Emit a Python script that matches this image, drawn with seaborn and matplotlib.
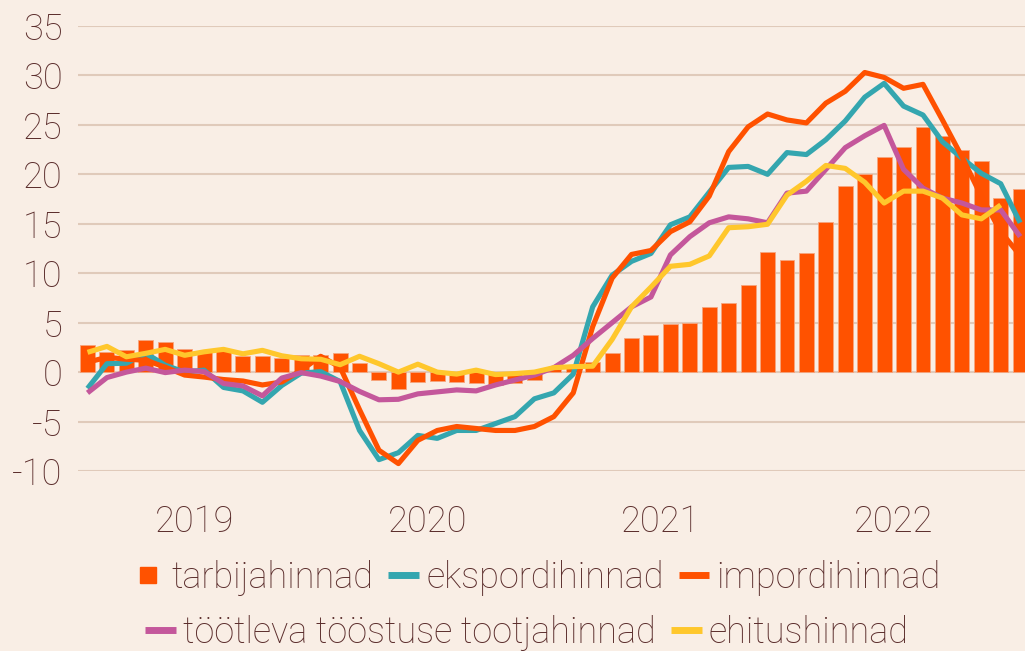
import numpy as np
import pandas as pd
import seaborn as sns
import matplotlib.pyplot as plt
from matplotlib.lines import Line2D

# Monthly data, Jan 2019 .. Jan 2023 (49 months), y/y change in %
months = list(range(49))
year_labels = ['2019', '2020', '2021', '2022']
year_pos = [5.5, 17.5, 29.5, 41.5]

tarbijahinnad = [2.7, 2.0, 2.2, 3.2, 3.0, 2.3, 2.0, 2.1, 1.6, 1.6, 1.4, 1.7,
                 1.7, 1.9, 0.9, -0.8, -1.7, -1.0, -0.9, -1.0, -1.1, -1.3, -1.15, -0.8,
                 0.3, 0.5, 1.0, 1.9, 3.5, 3.8, 4.9, 5.0, 6.6, 7.0, 8.8, 12.1,
                 11.3, 12.0, 15.2, 18.8, 20.0, 21.8, 22.8, 24.8, 23.9, 22.5, 21.3, 17.6,
                 18.5]
ekspordihinnad = [-1.65, 0.85, 0.9, 1.9, 0.7, 0.0, 0.2, -1.55, -1.9, -3.05, -1.35, -0.1,
                  0.05, -0.95, -5.9, -8.85, -8.15, -6.4, -6.7, -5.9, -5.9, -5.2, -4.5, -2.7,
                  -2.1, -0.2, 6.6, 9.8, 11.2, 12.0, 14.9, 15.7, 18.2, 20.7, 20.8, 20.0,
                  22.2, 22.0, 23.5, 25.4, 27.8, 29.2, 26.9, 26.0, 23.3, 21.65, 20.1, 19.05,
                  15.1]
impordihinnad = [1.0, 1.5, 1.3, 1.2, 0.5, -0.3, -0.5, -0.75, -0.9, -1.3, -1.0, 0.2,
                 1.6, 0.5, -3.8, -7.9, -9.25, -6.9, -5.9, -5.5, -5.7, -5.9, -5.9, -5.5,
                 -4.5, -2.1, 4.6, 9.5, 11.9, 12.3, 14.2, 15.2, 17.8, 22.3, 24.8, 26.1,
                 25.5, 25.2, 27.2, 28.4, 30.3, 29.8, 28.7, 29.1, 25.5, 21.8, 17.8, 14.2,
                 11.8]
tootjahinnad = [-2.1, -0.55, 0.0, 0.4, -0.05, 0.2, 0.05, -1.15, -1.4, -2.4, -0.6, -0.05,
                -0.4, -0.95, -1.95, -2.8, -2.75, -2.2, -2.0, -1.8, -1.9, -1.3, -0.8, -0.3,
                0.45, 1.7, 3.4, 5.0, 6.6, 7.6, 11.85, 13.7, 15.1, 15.7, 15.5, 15.1,
                18.1, 18.3, 20.5, 22.7, 23.9, 24.95, 20.5, 18.6, 17.6, 17.1, 16.4, 16.4,
                13.7]
ehitushinnad = [2.0, 2.6, 1.55, 1.9, 2.3, 1.7, 2.05, 2.3, 1.85, 2.2, 1.65, 1.35,
                1.3, 0.75, 1.6, 0.85, 0.0, 0.8, 0.0, -0.2, 0.2, -0.25, -0.15, 0.0,
                0.45, 0.55, 0.6, 3.3, 6.6, 8.6, 10.7, 10.9, 11.75, 14.6, 14.7, 14.95,
                17.9, 19.3, 20.9, 20.6, 19.2, 17.1, 18.3, 18.3, 17.6, 15.9, 15.5, 16.9,
                np.nan]

line_names = ['ekspordihinnad', 'impordihinnad',
              'töötleva tööstuse tootjahinnad', 'ehitushinnad']
colors = {
    'tarbijahinnad': '#FF5200',
    'ekspordihinnad': '#34A6AF',
    'impordihinnad': '#FF5100',
    'töötleva tööstuse tootjahinnad': '#C4579B',
    'ehitushinnad': '#FFC72C',
}

bars = pd.DataFrame({'month': months, 'value': tarbijahinnad})
lines = pd.DataFrame({
    'month': months * 4,
    'value': ekspordihinnad + impordihinnad + tootjahinnad + ehitushinnad,
    'series': sum([[n] * len(months) for n in line_names], []),
})

bg = '#F9EEE5'
grid_c = '#E0CABA'
text_c = '#5B2D2C'

sns.set_style('white')
plt.rcParams['font.family'] = ['Roboto', 'DejaVu Sans']
plt.rcParams['font.weight'] = 'light'
plt.rcParams['axes.unicode_minus'] = False

fig = plt.figure(figsize=(10.25, 6.51), dpi=100, facecolor=bg)
ax = fig.add_axes([78 / 1025, 1 - 471 / 651, (1025 - 78) / 1025, (471 - 26) / 651])
ax.set_facecolor(bg)

sns.barplot(data=bars, x='month', y='value', native_scale=True, width=0.77,
            color=colors['tarbijahinnad'], saturation=1, edgecolor='#F6A57F',
            linewidth=0.6, ax=ax, zorder=2)
sns.lineplot(data=lines, x='month', y='value', hue='series', hue_order=line_names,
             palette=colors, linewidth=3.7, legend=False, ax=ax, zorder=3,
             solid_capstyle='butt')

ax.set_ylim(-10, 35)
ax.set_xlim(-0.49, 48.25)
ax.set_yticks(range(-10, 36, 5))
ax.set_xticks(year_pos)
ax.set_xticklabels(year_labels)
ax.yaxis.grid(True, color=grid_c, linewidth=1.5, zorder=0)
ax.set_axisbelow(True)
for s in ax.spines.values():
    s.set_visible(False)
ax.tick_params(axis='y', length=0, pad=11, labelsize=26, labelcolor=text_c)
ax.tick_params(axis='x', length=0, pad=24, labelsize=26, labelcolor=text_c)
ax.set_xlabel('')
ax.set_ylabel('')

def handle(name, square=False):
    if square:
        return Line2D([], [], marker='s', markersize=12, linestyle='none',
                      color=colors[name])
    return Line2D([], [], color=colors[name], linewidth=5, solid_capstyle='butt')

leg_kw = dict(frameon=False, fontsize=26, handlelength=0.85, handletextpad=0.2,
              columnspacing=0.42, borderpad=0, borderaxespad=0, labelcolor=text_c,
              loc='center left')
row1 = ['tarbijahinnad', 'ekspordihinnad', 'impordihinnad']
leg1 = fig.legend([handle(row1[0], True), handle(row1[1]), handle(row1[2])], row1,
                  ncol=3, bbox_to_anchor=(133 / 1025, 1 - 578 / 651), **leg_kw)
row2 = ['töötleva tööstuse tootjahinnad', 'ehitushinnad']
leg2 = fig.legend([handle(row2[0]), handle(row2[1])], row2,
                  ncol=2, bbox_to_anchor=(145 / 1025, 1 - 633 / 651), **leg_kw)

fig.savefig('out.png', dpi=100, facecolor=bg)
plt.close(fig)
